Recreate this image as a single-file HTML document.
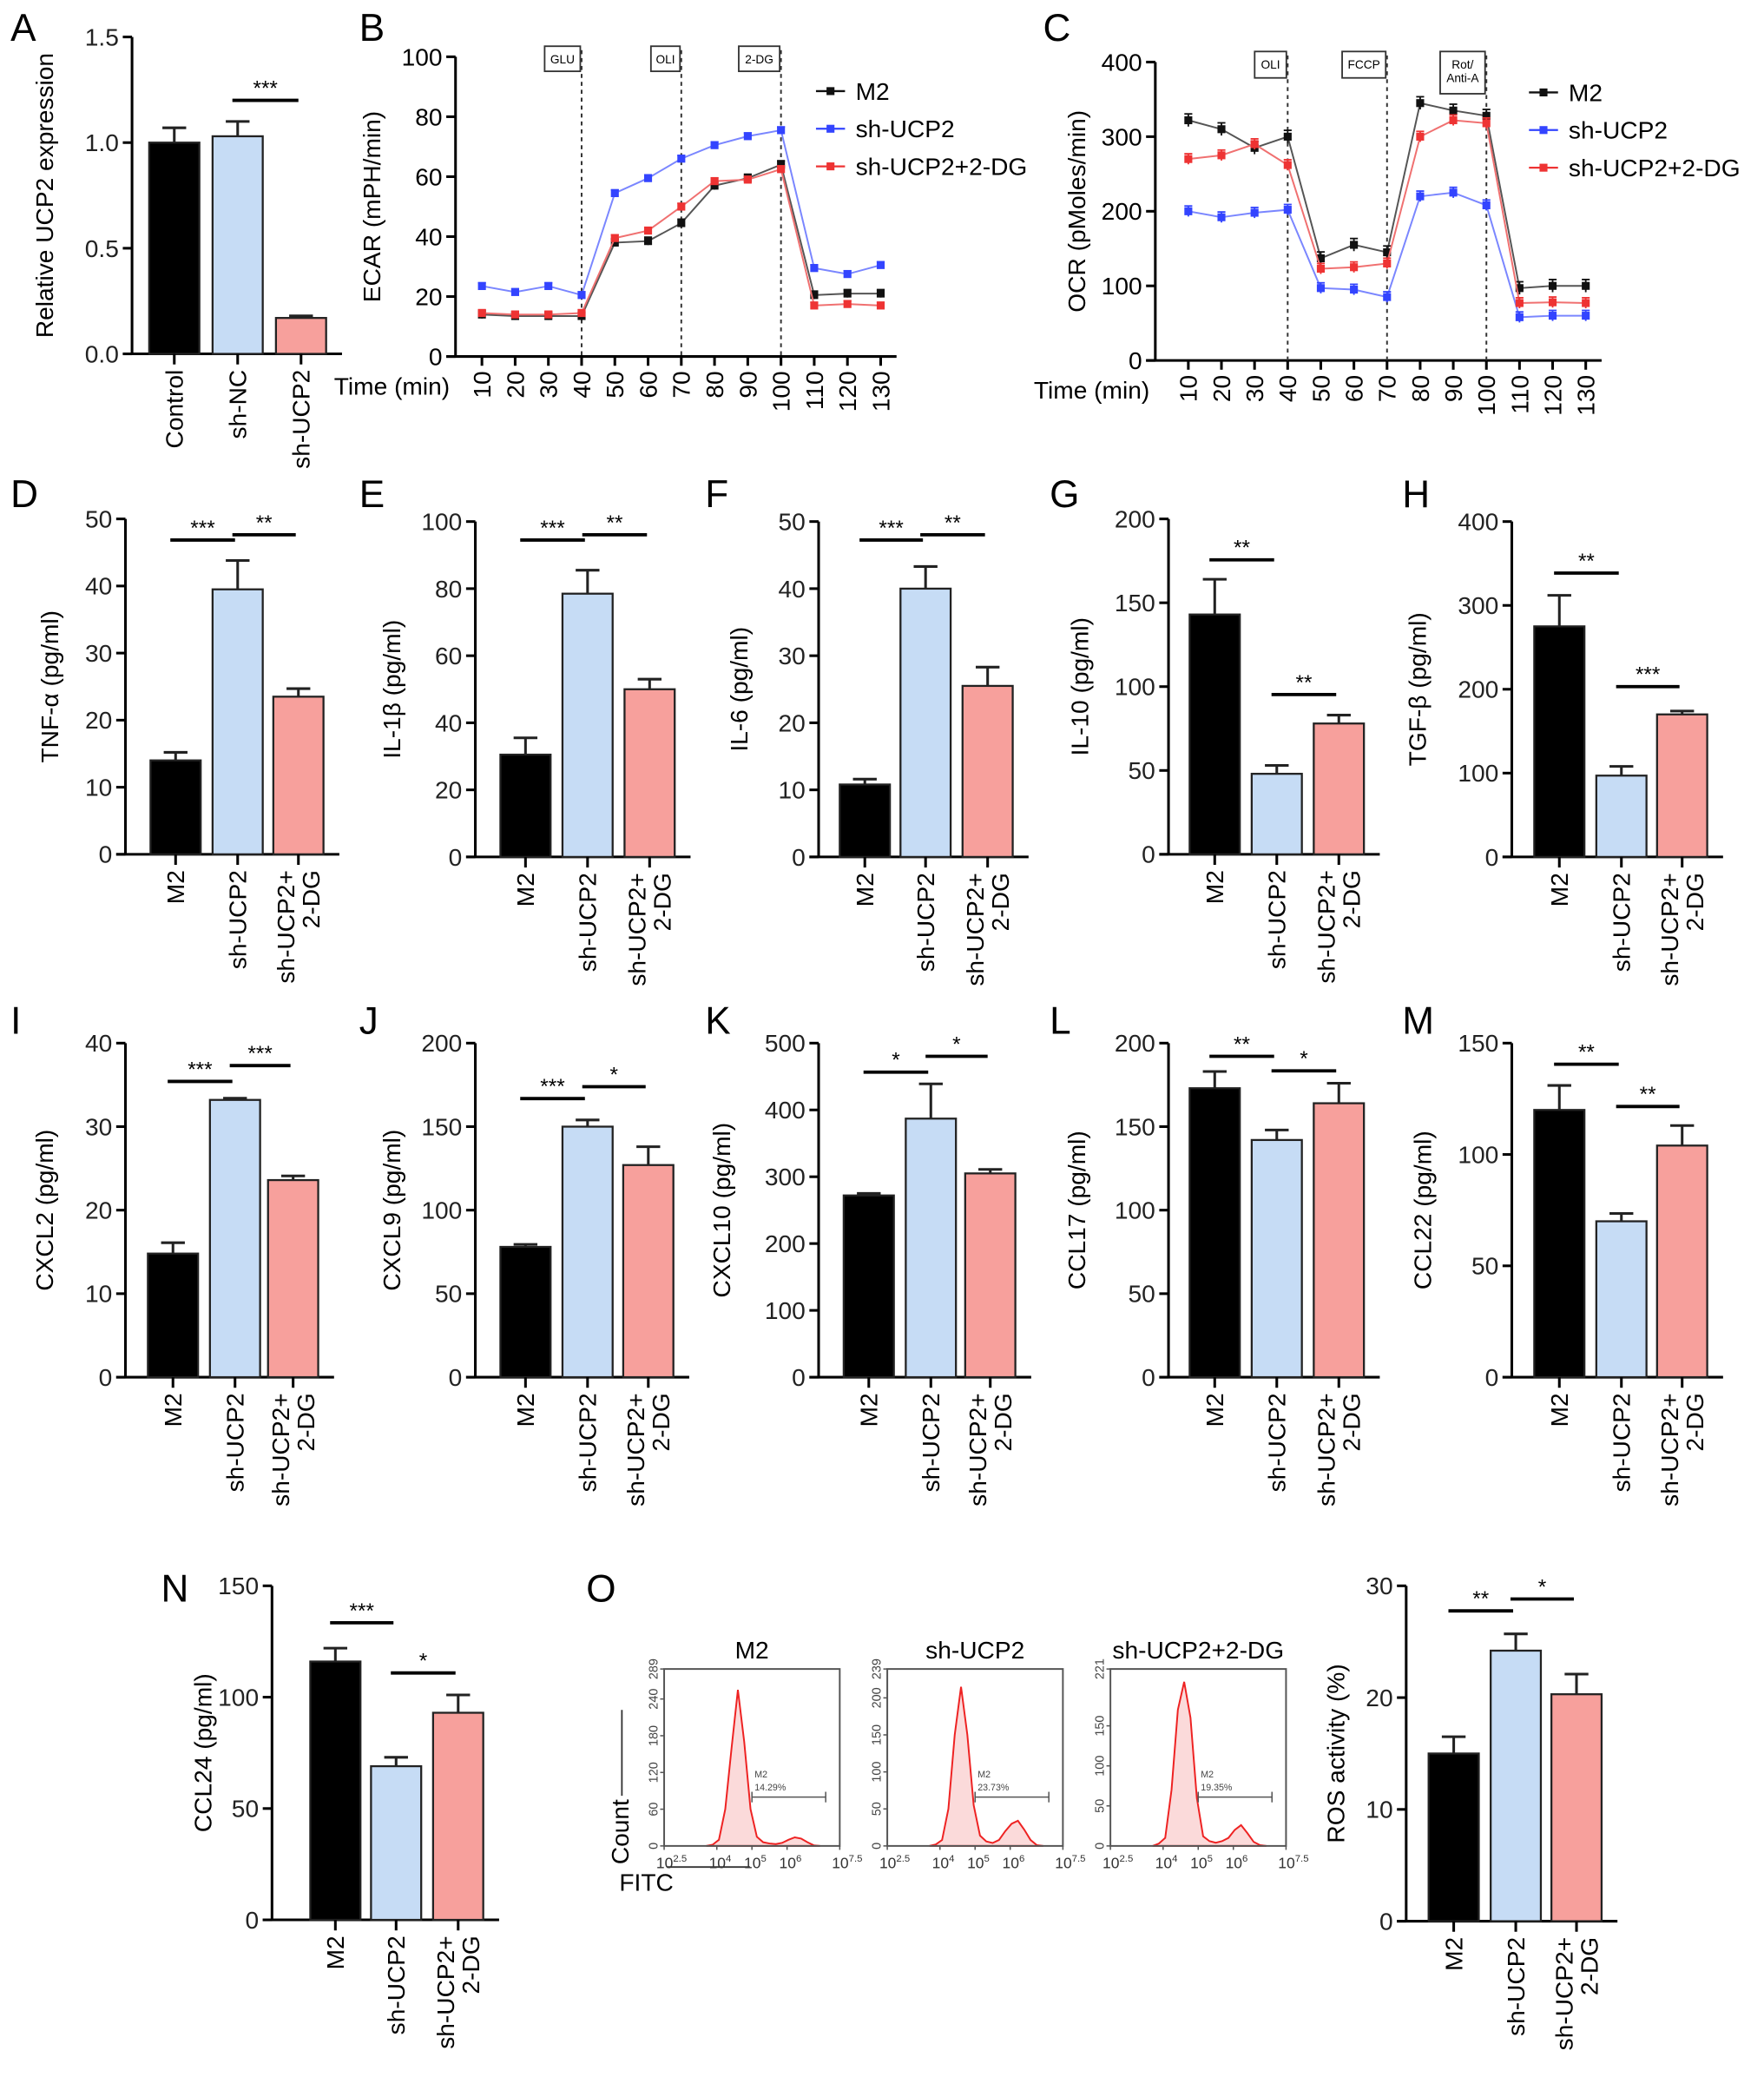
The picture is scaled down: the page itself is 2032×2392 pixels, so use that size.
<!DOCTYPE html>
<html><head><meta charset="utf-8">
<style>
html,body{margin:0;padding:0;background:#fff;}
svg{display:block;font-family:"Liberation Sans",Arial,sans-serif;}
</style></head>
<body>
<svg id="fig" xmlns="http://www.w3.org/2000/svg" width="2032" height="2392" viewBox="0 0 1336 1573" preserveAspectRatio="none"></svg>
<script>
// ---------- DATA ----------
const groupsA = ["Control","sh-NC","sh-UCP2"];
const valuesA = [1.0,1.03,0.17];
const errorsA = [0.07,0.07,0.01];
const timePoints = [10,20,30,40,50,60,70,80,90,100,110,120,130];
const ecarM2 = [14,13.5,13.5,13.5,38,38.5,44.5,57,59.5,64,20.5,21,21];
const ecarSh = [23.5,21.5,23.5,20.5,54.5,59.5,66,70.5,73.5,75.5,29.5,27.5,30.5];
const ecarDG = [14.5,14,14,14.5,39.5,42,50,58.5,59,62.5,17,17.5,17];
const ocrM2 = [322,310,285,300,137,155,145,345,335,328,97,100,100];
const ocrSh = [200,192,198,202,97,95,85,220,225,208,58,60,60];
const ocrDG = [270,275,290,262,123,125,130,300,322,318,77,78,77];
const groups3 = ["M2","sh-UCP2","sh-UCP2+2-DG"];
const tnfVals=[14,39.5,23.5], tnfErr=[1.2,4.3,1.2];
const il1Vals=[30.5,78.5,50], il1Err=[5,7,3];
const il6Vals=[10.8,40,25.5], il6Err=[0.8,3.3,2.8];
const il10Vals=[143,48,78], il10Err=[21,5,5];
const tgfVals=[275,97,170], tgfErr=[37,11,4];
const cxcl2Vals=[14.8,33.2,23.6], cxcl2Err=[1.3,0.2,0.5];
const cxcl9Vals=[78,150,127], cxcl9Err=[1.5,4,11];
const cxcl10Vals=[272,387,305], cxcl10Err=[3,52,6];
const ccl17Vals=[173,142,164], ccl17Err=[10,6,12];
const ccl22Vals=[120,70,104], ccl22Err=[11,3.5,9];
const ccl24Vals=[116,69,93], ccl24Err=[6,4,8];
const rosVals=[15,24.2,20.3], rosErr=[1.5,1.5,1.8];
const histM2=[0,2,10,60,160,255,170,60,15,6,4,3,5,10,14,12,6,1,0];
const histSh=[0,2,8,50,150,215,150,55,14,6,4,8,20,30,34,22,8,1,0];
const histDG=[0,3,10,70,170,205,160,60,12,6,4,6,10,20,26,16,5,1,0];

// ---------- HELPERS ----------
const NS="http://www.w3.org/2000/svg";
const svg=document.getElementById('fig');
const FS=18.5;
function el(tag,attrs,parent,text){const e=document.createElementNS(NS,tag);for(const k in attrs)e.setAttribute(k,attrs[k]);if(text!==undefined)e.textContent=text;(parent||svg).appendChild(e);return e;}
const fills=["#000000","#c6dcf5","#f7a09c"];
function letter(t,x,y){const e=el('text',{x:x,y:y,'font-size':29},svg,t);

}

function barPanel(o){
  const g=el('g',{});
  
  
  const yS=v=>o.y0-(v/o.ymax)*(o.y0-o.yTop);
  el('line',{x1:o.ax,y1:o.yTop,x2:o.ax,y2:o.y0,stroke:'#000','stroke-width':2},g);
  const nt=o.nt;
  for(let i=0;i<=nt;i++){const v=o.ymax*i/nt;const y=yS(v);
    el('line',{x1:o.ax-7,y1:y,x2:o.ax,y2:y,stroke:'#000','stroke-width':2},g);
    const t=el('text',{x:o.ax-10,y:y+6.5,'font-size':FS,'text-anchor':'end',fill:'#222'},g,o.fmt?o.fmt(v):String(Math.round(v)));
    }
  const lastX=o.cx[o.cx.length-1]+(o.bw/2)+12;
  el('line',{x1:o.ax-7,y1:o.y0,x2:lastX,y2:o.y0,stroke:'#000','stroke-width':2},g);
  const yl=el('text',{x:0,y:0,'font-size':FS,'text-anchor':'middle',transform:`translate(${o.ylx},${(o.yTop+o.y0)/2}) rotate(-90)`},g,o.ylabel);
  
  o.vals.forEach((v,i)=>{
    const x=o.cx[i];const y=yS(v);
    const ye=yS(v+o.err[i]);
    el('line',{x1:x,y1:y,x2:x,y2:ye,stroke:'#222','stroke-width':2},g);
    el('line',{x1:x-9,y1:ye,x2:x+9,y2:ye,stroke:'#222','stroke-width':2},g);
    const r=el('rect',{x:x-o.bw/2,y:y,width:o.bw,height:o.y0-y,fill:fills[i],stroke:'#222','stroke-width':1.5},g);
    
    
    el('line',{x1:x,y1:o.y0,x2:x,y2:o.y0+8,stroke:'#000','stroke-width':2},g);
    const lab=o.labels[i];
    const parts=lab==="sh-UCP2+2-DG"?["sh-UCP2+","2-DG"]:[lab];
    parts.forEach((p,j)=>{
      const dx=parts.length===1?6.5:(j===0?-3:16);
      const t=el('text',{x:0,y:0,'font-size':FS,'text-anchor':'end',transform:`translate(${x+dx},${o.y0+12}) rotate(-90)`},g,p);
      
    });
  });
  (o.sig||[]).forEach(s=>{
    el('line',{x1:o.cx[s[0]]-4,y1:s[2],x2:o.cx[s[1]]-2,y2:s[2],stroke:'#000','stroke-width':2.5},g);
    const t=el('text',{x:(o.cx[s[0]]+o.cx[s[1]])/2-3,y:s[2]-4,'font-size':16,'text-anchor':'middle'},g,s[3]);
    
  });
}

function linePanel(o){
  const g=el('g',{});
  
  
  const yS=v=>o.y0-(v/o.ymax)*(o.y0-o.yTop);
  const xS=t=>o.x10+(t-10)/120*(o.x130-o.x10);
  el('line',{x1:o.ax,y1:o.yTop,x2:o.ax,y2:o.y0,stroke:'#000','stroke-width':2},g);
  for(let i=0;i<=o.nt;i++){const v=o.ymax*i/o.nt,y=yS(v);
    el('line',{x1:o.ax-7,y1:y,x2:o.ax,y2:y,stroke:'#000','stroke-width':2},g);
    el('text',{x:o.ax-10,y:y+6.5,'font-size':FS,'text-anchor':'end'},g,String(v));}
  el('line',{x1:o.ax-7,y1:o.y0,x2:xS(130)+12,y2:o.y0,stroke:'#000','stroke-width':2},g);
  timePoints.forEach(t=>{const x=xS(t);
    el('line',{x1:x,y1:o.y0,x2:x,y2:o.y0+7,stroke:'#000','stroke-width':2},g);
    el('text',{x:0,y:0,'font-size':FS,'text-anchor':'end',transform:`translate(${x+6.5},${o.y0+11}) rotate(-90)`},g,String(t));});
  el('text',{x:o.ax-92,y:o.y0+29,'font-size':FS},g,'Time (min)');
  el('text',{x:0,y:0,'font-size':FS,'text-anchor':'middle',transform:`translate(${o.ylx},${(o.yTop+o.y0)/2}) rotate(-90)`},g,o.ylabel);
  o.inj.forEach(j=>{const x=xS(j.t);
    el('line',{x1:x,y1:o.yTop-5,x2:x,y2:o.y0,stroke:'#333','stroke-width':1.3,'stroke-dasharray':'3,3'},g);
    el('rect',{x:x-j.w-1,y:o.yTop-8,width:j.w,height:j.h,fill:'#fff',stroke:'#333','stroke-width':1.2},g);
    j.lines.forEach((l,k)=>el('text',{x:x-j.w/2-1,y:o.yTop+5+k*10,'font-size':9,'text-anchor':'middle'},g,l));});
  const cols=['#111','#3344ff','#ee3333'];
  o.series.forEach((s,si)=>{
    const pts=s.map((v,i)=>xS(timePoints[i])+','+yS(v)).join(' ');
    const pl=el('polyline',{points:pts,fill:'none',stroke:si===0?'#555':(si===1?'#7a86ff':'#f07070'),'stroke-width':1.3},g);
    
    s.forEach((v,i)=>{const x=xS(timePoints[i]),y=yS(v);const e=o.errs*(si===0?1.2:1);
      el('line',{x1:x,y1:y-e,x2:x,y2:y+e,stroke:cols[si],'stroke-width':1.2},g);
      el('line',{x1:x-3,y1:y-e,x2:x+3,y2:y-e,stroke:cols[si],'stroke-width':1.2},g);
      el('rect',{x:x-3,y:y-3,width:6,height:6,fill:cols[si]},g);});
    const ly=o.legY+si*28.5;
    el('line',{x1:o.legX,y1:ly,x2:o.legX+22,y2:ly,stroke:cols[si],'stroke-width':1.5},g);
    el('rect',{x:o.legX+8,y:ly-3,width:6,height:6,fill:cols[si]},g);
    const t=el('text',{x:o.legX+30,y:ly+6.5,'font-size':FS},g,groupsLegend[si]);
    
  });
}
const groupsLegend=["M2","sh-UCP2","sh-UCP2+2-DG"];

// ---------- PANEL A ----------
letter('A',8,31);
barPanel({name:'panel-a-ucp2',ax:100,yTop:28,y0:268,ymax:1.5,nt:3,fmt:v=>v.toFixed(1),cx:[132,180,228],bw:38,vals:valuesA,err:errorsA,labels:groupsA,ylabel:'Relative UCP2 expression',ylx:40,sig:[[1,2,76,'***']]});
// ---------- B, C ----------
letter('B',272,31);
linePanel({name:'panel-b-ecar',ax:345,yTop:43,y0:270,ymax:100,nt:5,x10:365,x130:667,ylabel:'ECAR (mPH/min)',ylx:288,series:[ecarM2,ecarSh,ecarDG],errs:2.5,legX:618,legY:69,
 inj:[{t:40,w:27,h:19,lines:['GLU']},{t:70,w:22,h:19,lines:['OLI']},{t:100,w:31,h:19,lines:['2-DG']}]});
letter('C',790,31);
linePanel({name:'panel-c-ocr',ax:875,yTop:47,y0:273,ymax:400,nt:4,x10:900,x130:1201,ylabel:'OCR (pMoles/min)',ylx:822,series:[ocrM2,ocrSh,ocrDG],errs:4,legX:1158,legY:70,
 inj:[{t:40,w:24,h:20,lines:['OLI']},{t:70,w:33,h:20,lines:['FCCP']},{t:100,w:34,h:32,lines:['Rot/','Anti-A']}]});

// ---------- ROW 2 ----------
letter('D',8,384);
barPanel({name:'panel-d-tnf',ax:95,yTop:393,y0:647,ymax:50,nt:5,cx:[133,180,226],bw:38,vals:tnfVals,err:tnfErr,labels:groups3,ylabel:'TNF-α (pg/ml)',ylx:44,sig:[[0,1,409,'***'],[1,2,405,'**']]});
letter('E',272,384);
barPanel({name:'panel-e-il1b',ax:360,yTop:395,y0:649,ymax:100,nt:5,cx:[398,445,492],bw:38,vals:il1Vals,err:il1Err,labels:groups3,ylabel:'IL-1β (pg/ml)',ylx:303,sig:[[0,1,409,'***'],[1,2,405,'**']]});
letter('F',534,384);
barPanel({name:'panel-f-il6',ax:620,yTop:395,y0:649,ymax:50,nt:5,cx:[655,701,748],bw:38,vals:il6Vals,err:il6Err,labels:groups3,ylabel:'IL-6 (pg/ml)',ylx:566,sig:[[0,1,409,'***'],[1,2,405,'**']]});
letter('G',795,384);
barPanel({name:'panel-g-il10',ax:885,yTop:393,y0:647,ymax:200,nt:4,cx:[920,967,1014],bw:38,vals:il10Vals,err:il10Err,labels:groups3,ylabel:'IL-10 (pg/ml)',ylx:824,sig:[[0,1,424,'**'],[1,2,526,'**']]});
letter('H',1062,384);
barPanel({name:'panel-h-tgfb',ax:1145,yTop:395,y0:649,ymax:400,nt:4,cx:[1181,1228,1274],bw:38,vals:tgfVals,err:tgfErr,labels:groups3,ylabel:'TGF-β (pg/ml)',ylx:1080,sig:[[0,1,434,'**'],[1,2,520,'***']]});

// ---------- ROW 3 ----------
letter('I',8,783);
barPanel({name:'panel-i-cxcl2',ax:95,yTop:790,y0:1043,ymax:40,nt:4,cx:[131,178,222],bw:38,vals:cxcl2Vals,err:cxcl2Err,labels:groups3,ylabel:'CXCL2 (pg/ml)',ylx:40,sig:[[0,1,819,'***'],[1,2,807,'***']]});
letter('J',272,783);
barPanel({name:'panel-j-cxcl9',ax:360,yTop:790,y0:1043,ymax:200,nt:4,cx:[398,445,491],bw:38,vals:cxcl9Vals,err:cxcl9Err,labels:groups3,ylabel:'CXCL9 (pg/ml)',ylx:303,sig:[[0,1,832,'***'],[1,2,823,'*']]});
letter('K',534,783);
barPanel({name:'panel-k-cxcl10',ax:620,yTop:790,y0:1043,ymax:500,nt:5,cx:[658,705,750],bw:38,vals:cxcl10Vals,err:cxcl10Err,labels:groups3,ylabel:'CXCL10 (pg/ml)',ylx:553,sig:[[0,1,812,'*'],[1,2,800,'*']]});
letter('L',795,783);
barPanel({name:'panel-l-ccl17',ax:885,yTop:790,y0:1043,ymax:200,nt:4,cx:[920,967,1014],bw:38,vals:ccl17Vals,err:ccl17Err,labels:groups3,ylabel:'CCL17 (pg/ml)',ylx:822,sig:[[0,1,800,'**'],[1,2,811,'*']]});
letter('M',1062,783);
barPanel({name:'panel-m-ccl22',ax:1145,yTop:790,y0:1043,ymax:150,nt:3,cx:[1181,1228,1274],bw:38,vals:ccl22Vals,err:ccl22Err,labels:groups3,ylabel:'CCL22 (pg/ml)',ylx:1084,sig:[[0,1,806,'**'],[1,2,838,'**']]});

// ---------- ROW 4 ----------
letter('N',122,1213);
barPanel({name:'panel-n-ccl24',ax:206,yTop:1201,y0:1454,ymax:150,nt:3,cx:[254,300,347],bw:38,vals:ccl24Vals,err:ccl24Err,labels:groups3,ylabel:'CCL24 (pg/ml)',ylx:160,sig:[[0,1,1229,'***'],[1,2,1267,'*']]});
barPanel({name:'panel-o-ros',ax:1065,yTop:1201,y0:1455,ymax:30,nt:3,cx:[1101,1148,1194],bw:38,vals:rosVals,err:rosErr,labels:groups3,ylabel:'ROS activity (%)',ylx:1018,sig:[[0,1,1220,'**'],[1,2,1211,'*']]});
letter('O',444,1213);

// ---------- FLOW HISTOGRAMS ----------
function flow(o){
  const g=el('g',{});
  
  
  const L=o.x,T=1264,W=133,H=134,B=T+H;
  const xS=d=>L+(d-2.5)/5*W;
  const yS=c=>B-c/o.ymax*H;
  el('text',{x:L+W/2,y:T-8,'font-size':FS,'text-anchor':'middle'},g,o.title);
  const d0=3.7,step=0.18;
  let p=`M${xS(d0)},${B}`;
  o.hist.forEach((c,i)=>{p+=` L${xS(d0+i*step)},${yS(c)}`;});
  p+=` L${xS(d0+(o.hist.length-1)*step)},${B} Z`;
  const h=el('path',{d:p,fill:'#fbdada',stroke:'#ee2222','stroke-width':1.3},g);
  
  el('rect',{x:L,y:T,width:W,height:H,fill:'none',stroke:'#555','stroke-width':1.3},g);
  o.ticks.forEach(t=>{const y=yS(t);
    el('line',{x1:L-3,y1:y,x2:L,y2:y,stroke:'#555'},g);
    el('text',{x:0,y:0,'font-size':9.5,'text-anchor':'middle',fill:'#444',transform:`translate(${L-5},${y}) rotate(-90)`},g,String(t));});
  [[2.5,'2.5'],[4,'4'],[5,'5'],[6,'6'],[7.5,'7.5']].forEach(a=>{const x=xS(a[0]);
    el('line',{x1:x,y1:B,x2:x,y2:B+3,stroke:'#555'},g);
    const t=el('text',{x:x-6,y:B+17,'font-size':11.5,fill:'#333'},g,'10');
    el('tspan',{dy:-5,'font-size':7.5},t,a[1]);});
  const gx1=xS(5),gx2=xS(7.1),gy=B-37;
  el('line',{x1:gx1,y1:gy,x2:gx2,y2:gy,stroke:'#555','stroke-width':1},g);
  el('line',{x1:gx1,y1:gy-4,x2:gx1,y2:gy+4,stroke:'#555'},g);
  el('line',{x1:gx2,y1:gy-4,x2:gx2,y2:gy+4,stroke:'#555'},g);
  el('text',{x:gx1+2,y:gy-15,'font-size':7,fill:'#444'},g,'M2');
  el('text',{x:gx1+2,y:gy-5,'font-size':7,fill:'#444'},g,o.pct);
}
flow({name:'flow-m2',x:503,title:'M2',hist:histM2,ymax:289,ticks:[0,60,120,180,240,289],pct:'14.29%'});
flow({name:'flow-sh-ucp2',x:672,title:'sh-UCP2',hist:histSh,ymax:239,ticks:[0,50,100,150,200,239],pct:'23.73%'});
flow({name:'flow-sh-ucp2-2dg',x:841,title:'sh-UCP2+2-DG',hist:histDG,ymax:221,ticks:[0,50,100,150,221],pct:'19.35%'});
el('text',{x:0,y:0,'font-size':FS,transform:'translate(476,1412) rotate(-90)'},svg,'Count');
el('line',{x1:471,y1:1295,x2:471,y2:1360,stroke:'#333','stroke-width':1.2});
el('text',{x:469,y:1432,'font-size':FS},svg,'FITC');
el('line',{x1:505,y1:1414,x2:568,y2:1414,stroke:'#333','stroke-width':1.2});
</script>
</body></html>
